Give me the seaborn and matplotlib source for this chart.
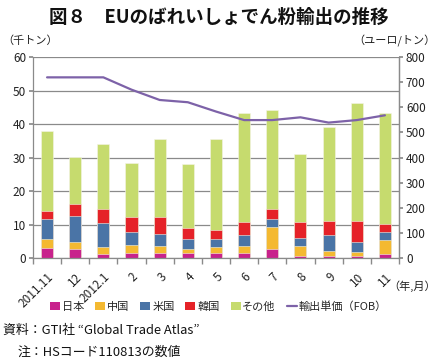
import matplotlib
matplotlib.use("Agg")
import matplotlib.pyplot as plt
import seaborn as sns
import numpy as np
import pandas as pd
from matplotlib.lines import Line2D
from matplotlib.patches import Patch

sns.set_theme(style="white")
plt.rcParams['font.family'] = ['Noto Sans CJK JP', 'DejaVu Sans']

months = ["2011.11", "12", "2012.1", "2", "3", "4", "5", "6", "7", "8", "9", "10", "11"]
japan = [3.0, 2.8, 1.2, 1.5, 1.4, 1.4, 1.4, 1.6, 2.8, 0.5, 0.5, 0.7, 1.1]
china = [2.6, 2.1, 2.1, 2.5, 2.3, 1.2, 2.0, 2.1, 6.4, 3.0, 1.7, 1.1, 4.2]
usa = [6.0, 7.8, 7.3, 3.9, 3.6, 3.1, 2.3, 3.2, 2.4, 2.6, 4.7, 2.9, 2.6]
korea = [2.5, 3.5, 4.0, 4.5, 5.1, 3.3, 2.8, 3.8, 3.0, 4.6, 4.1, 6.4, 2.4]
other = [23.7, 14.1, 19.5, 16.0, 23.0, 19.2, 26.9, 32.6, 29.5, 20.3, 28.0, 35.2, 32.9]
price = [719, 719, 719, 670, 629, 620, 583, 549, 549, 560, 539, 549, 568]

series_names = ["日本", "中国", "米国", "韓国", "その他"]
colors = ["#C8228C", "#F4B931", "#4A74A6", "#E52228", "#C6DB6E"]
line_color = "#7D62A8"

df = pd.DataFrame({"month": months, "日本": japan, "中国": china, "米国": usa,
                   "韓国": korea, "その他": other, "price": price})
df["x"] = np.arange(len(months))

fig = plt.figure(figsize=(4.37, 3.63), dpi=100)
ax = fig.add_axes([0.0755, 0.289, 0.8375, 0.554])

cum = df[series_names].cumsum(axis=1)
for name, col in reversed(list(zip(series_names, colors))):
    sns.barplot(x=df["month"], y=cum[name], color=col, ax=ax, width=0.43,
                saturation=1, edgecolor="#f4f4e8", linewidth=0.4, order=months)

ax.set_ylim(0, 60)
ax.set_xlim(-0.5, len(months) - 0.5)
ax.set_yticks(range(0, 61, 10))
ax.yaxis.grid(True, color="#8a8a8a", linewidth=0.9)
ax.set_axisbelow(True)
ax.set_xlabel("")
ax.set_ylabel("")
for s in ["top"]:
    ax.spines[s].set_visible(False)
for s in ["left", "right", "bottom"]:
    ax.spines[s].set_color("#8a8a8a")
    ax.spines[s].set_linewidth(0.9)
ax.tick_params(axis="y", which="both", left=True, length=3, color="#8a8a8a",
               labelsize=8.5, pad=2, labelcolor="#222222")
ax.set_xticks(np.arange(len(months)))
ax.set_xticklabels(months, rotation=45, ha="right", rotation_mode="anchor",
                   fontsize=8.5, color="#222222")
ax.tick_params(axis="x", which="major", bottom=False, pad=3)
ax.set_xticks(np.arange(len(months) + 1) - 0.5, minor=True)
ax.tick_params(axis="x", which="minor", bottom=True, length=4, color="#8a8a8a")

ax2 = ax.twinx()
sns.lineplot(data=df, x="x", y="price", ax=ax2, color=line_color, linewidth=1.6)
ax2.set_ylim(0, 800)
ax2.set_yticks(range(0, 801, 100))
ax2.set_ylabel("")
ax2.set_xlabel("")
ax2.spines["top"].set_visible(False)
ax2.spines["left"].set_visible(False)
ax2.spines["bottom"].set_visible(False)
ax2.spines["right"].set_color("#8a8a8a")
ax2.spines["right"].set_linewidth(0.9)
ax2.tick_params(axis="y", right=True, length=3, color="#8a8a8a", labelsize=8.5,
                pad=2, labelcolor="#222222")
ax2.grid(False)
ax2.set_xlim(-0.5, len(months) - 0.5)

fig.text(0.5, 0.953, "図８　EUのばれいしょでん粉輸出の推移", ha="center", va="center",
         fontsize=13.3, fontweight="bold", color="#111111")
fig.text(0.005, 0.888, "（千トン）", ha="left", va="center", fontsize=8, color="#222222")
fig.text(0.997, 0.888, "（ユーロ/トン）", ha="right", va="center", fontsize=8, color="#222222")
fig.text(0.997, 0.212, "（年,月）", ha="right", va="center", fontsize=8, color="#222222")

handles = [Patch(facecolor=c, edgecolor="none") for c in colors]
handles.append(Line2D([0], [0], color=line_color, linewidth=1.6))
labels = series_names + ["輸出単価（FOB）"]
fig.legend(handles, labels, loc="center", bbox_to_anchor=(0.5, 0.155), ncol=6,
           frameon=False, fontsize=8, handlelength=0.9, handleheight=0.8,
           handletextpad=0.15, columnspacing=1.0, borderaxespad=0)

fig.text(0.008, 0.09, "資料：GTI社 “Global Trade Atlas”", ha="left", va="center",
         fontsize=9.3, color="#111111")
fig.text(0.04, 0.03, "注：HSコード110813の数値", ha="left", va="center",
         fontsize=9.3, color="#111111")

fig.savefig("out.png", dpi=100)
